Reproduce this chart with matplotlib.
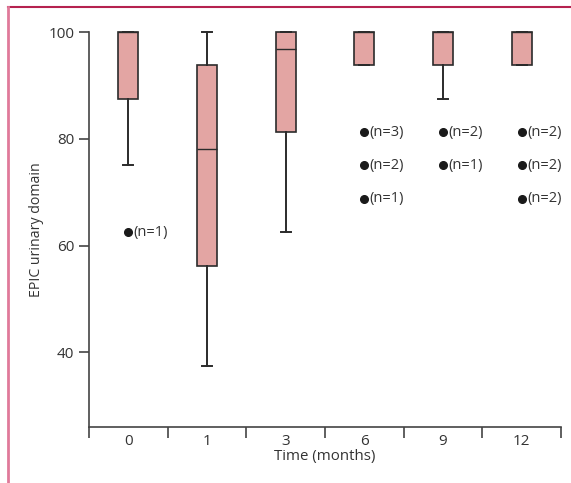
import numpy as np
import matplotlib
matplotlib.use('Agg')
import matplotlib.pyplot as plt
from matplotlib.lines import Line2D

plt.rcParams['font.family'] = ['Open Sans', 'DejaVu Sans']

# box statistics
months = ['0', '1', '3', '6', '9', '12']
whislo = [75, 37.5, 62.5, 93.75, 87.5, 93.75]
q1 = [87.5, 56.25, 81.25, 93.75, 93.75, 93.75]
med = [100, 78.1, 96.9, 100, 100, 100]
q3 = [100, 93.75, 100, 100, 100, 100]
whishi = [100, 100, 100, 100, 100, 100]

# outliers: (group index, value, count)
out_group = [0, 3, 3, 3, 4, 4, 5, 5, 5]
out_value = [62.5, 81.25, 75, 68.75, 81.25, 75, 81.25, 75, 68.75]
out_n = [1, 3, 2, 1, 2, 1, 2, 2, 2]

fig = plt.figure(figsize=(5.71, 4.83), dpi=100)
ax = fig.add_axes([89/571, 1-427/483, (561-89)/571, (427-32)/483])

stats = []
for i in range(len(months)):
    stats.append(dict(whislo=whislo[i], q1=q1[i], med=med[i], q3=q3[i],
                      whishi=whishi[i], fliers=[], label=months[i]))

edge = '#2b2b2b'
ax.bxp(stats, positions=np.arange(len(months)), widths=0.25, patch_artist=True,
       showfliers=False,
       boxprops=dict(facecolor='#e3a5a3', edgecolor=edge, linewidth=1.2),
       medianprops=dict(color=edge, linewidth=1.0),
       whiskerprops=dict(color=edge, linewidth=1.4),
       capprops=dict(color=edge, linewidth=1.4),
       capwidths=0.13, manage_ticks=False)
for a in ax.patches + ax.lines:
    a.set_clip_on(False)

for g, v, n in zip(out_group, out_value, out_n):
    ax.plot(g, v, 'o', color='#1a1a1a', markersize=5.5, clip_on=False)
    ax.text(g + 0.07, v, '(n=%d)' % n, va='center', ha='left', fontsize=10.5,
            color='#333333')

ax.set_xlim(-0.5, len(months) - 0.5)
ax.set_ylim(26, 100)
ax.set_yticks([40, 60, 80, 100])
ax.set_xticks(np.arange(len(months)))
ax.set_xticklabels(months)
ax.set_xticks(np.arange(len(months) + 1) - 0.5, minor=True)
ax.tick_params(axis='x', which='major', length=0, pad=5, labelsize=11, colors='#333333')
ax.tick_params(axis='x', which='minor', length=8, width=1.2, color='#444444')
ax.tick_params(axis='y', length=7, width=1.2, labelsize=11, colors='#333333', color='#444444')
ax.spines['top'].set_visible(False)
ax.spines['right'].set_visible(False)
for s in ['left', 'bottom']:
    ax.spines[s].set_color('#444444')
    ax.spines[s].set_linewidth(1.2)
ax.spines['left'].set_bounds(26, 100)

ax.set_xlabel('Time (months)', fontsize=10.8, color='#333333', labelpad=0)
ax.set_ylabel('EPIC urinary domain', fontsize=10.2, color='#333333', labelpad=3)

# journal frame
fig.add_artist(Line2D([8/571, 1], [1-7/483, 1-7/483], color='#b5224f', linewidth=1.5))
fig.add_artist(Line2D([8/571, 8/571], [0, 1-7/483], color='#e07a9a', linewidth=2))

fig.savefig('out.png', dpi=100)
